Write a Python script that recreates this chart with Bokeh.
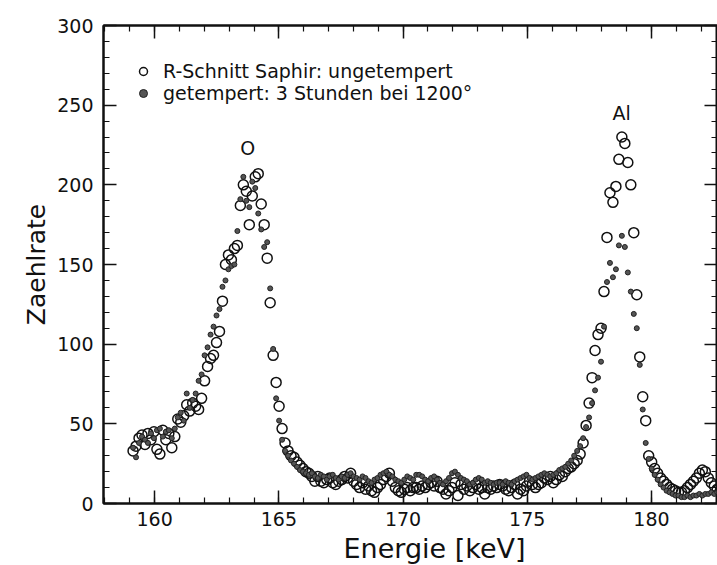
from bokeh.plotting import figure
from bokeh.models import (LinearAxis, SingleIntervalTicker, Range1d, Legend,
                          LegendItem, Label, ColumnDataSource, Title)
from bokeh.embed import file_html
from bokeh.resources import INLINE

# ---- data ----
energie = [
    159.13, 159.25, 159.37, 159.49, 159.61, 159.73, 159.85, 159.97, 160.09, 160.21,
    160.33, 160.45, 160.57, 160.69, 160.81, 160.93, 161.05, 161.17, 161.29, 161.41,
    161.53, 161.65, 161.77, 161.89, 162.01, 162.13, 162.25, 162.37, 162.49, 162.61,
    162.73, 162.85, 162.97, 163.09, 163.21, 163.33, 163.45, 163.57, 163.69, 163.81,
    163.93, 164.05, 164.17, 164.29, 164.41, 164.53, 164.65, 164.77, 164.89, 165.01,
    165.13, 165.25, 165.37, 165.49, 165.61, 165.73, 165.85, 165.97, 166.09, 166.21,
    166.33, 166.45, 166.57, 166.69, 166.81, 166.93, 167.05, 167.17, 167.29, 167.41,
    167.53, 167.65, 167.77, 167.89, 168.01, 168.13, 168.25, 168.37, 168.49, 168.61,
    168.73, 168.85, 168.97, 169.09, 169.21, 169.33, 169.45, 169.57, 169.69, 169.81,
    169.93, 170.05, 170.17, 170.29, 170.41, 170.53, 170.65, 170.77, 170.89, 171.01,
    171.13, 171.25, 171.37, 171.49, 171.61, 171.73, 171.85, 171.97, 172.09, 172.21,
    172.33, 172.45, 172.57, 172.69, 172.81, 172.93, 173.05, 173.17, 173.29, 173.41,
    173.53, 173.65, 173.77, 173.89, 174.01, 174.13, 174.25, 174.37, 174.49, 174.61,
    174.73, 174.85, 174.97, 175.09, 175.21, 175.33, 175.45, 175.57, 175.69, 175.81,
    175.93, 176.05, 176.17, 176.29, 176.41, 176.53, 176.65, 176.77, 176.89, 177.01,
    177.13, 177.25, 177.37, 177.49, 177.61, 177.73, 177.85, 177.97, 178.09, 178.21,
    178.33, 178.45, 178.57, 178.69, 178.81, 178.93, 179.05, 179.17, 179.29, 179.41,
    179.53, 179.65, 179.77, 179.89, 180.01, 180.13, 180.25, 180.37, 180.49, 180.61,
    180.73, 180.85, 180.97, 181.09, 181.21, 181.33, 181.45, 181.57, 181.69, 181.81,
    181.93, 182.05, 182.17, 182.29, 182.41, 182.53, 182.65, 182.77,
]

ungetempert = [
    33, 36, 41, 43, 37, 44, 40, 45, 34, 31,
    46, 40, 44, 35, 42, 53, 51, 55, 62, 58,
    63, 61, 59, 66, 77, 86, 91, 93, 101, 108,
    127, 150, 156, 153, 160, 162, 187, 200, 196, 175,
    193, 205, 207, 188, 175, 154, 126, 93, 76, 61,
    47, 38, 33, 30, 29, 26, 24, 22, 20, 19,
    17, 14, 17, 14, 13, 15, 16, 13, 12, 14,
    15, 17, 16, 19, 14, 12, 10, 13, 9, 11,
    8, 7, 10, 12, 15, 17, 19, 14, 10, 8,
    7, 9, 10, 8, 10, 10, 9, 11, 10, 12,
    13, 11, 14, 10, 9, 6, 8, 10, 13, 5,
    12, 9, 11, 8, 10, 12, 9, 10, 6, 10,
    9, 11, 10, 12, 11, 9, 8, 10, 12, 6,
    9, 8, 11, 14, 12, 10, 12, 13, 16, 15,
    17, 13, 15, 18, 17, 20, 22, 23, 25, 27,
    31, 38, 49, 63, 79, 96, 106, 110, 133, 167,
    195, 189, 199, 216, 230, 226, 214, 200, 170, 131,
    92, 67, 52, 30, 26, 22, 19, 16, 14, 12,
    10, 9, 8, 7, 7, 8, 10, 12, 14, 16,
    19, 21, 20, 16, 13, 11, 9, 8,
]

getempert = [
    35, 29, 38, 42, 40, 38, 44, 41, 46, 47,
    42, 45, 46, 41, 47, 54, 57, 52, 69, 60,
    65, 69, 77, 81, 93, 98, 106, 111, 118, 122,
    136, 140, 147, 149, 150, 171, 191, 205, 190, 186,
    202, 198, 182, 172, 161, 164, 135, 97, 66, 52,
    40, 33, 30, 27, 25, 23, 21, 20, 19, 18,
    19, 17, 16, 18, 17, 15, 17, 18, 16, 15,
    17, 16, 18, 19, 17, 16, 15, 17, 16, 14,
    13, 15, 16, 18, 19, 20, 18, 17, 15, 14,
    13, 15, 17, 16, 15, 18, 18, 17, 15, 14,
    16, 17, 15, 13, 12, 14, 16, 19, 20, 18,
    16, 15, 14, 12, 13, 15, 16, 15, 13, 14,
    13, 12, 13, 13, 12, 14, 13, 12, 14, 15,
    16, 17, 18, 16, 15, 16, 17, 18, 19, 18,
    17, 18, 19, 21, 22, 23, 25, 27, 30, 33,
    36, 41, 48, 54, 63, 71, 79, 89, 111, 139,
    151, 142, 147, 162, 168, 161, 145, 133, 119, 110,
    87, 59, 38, 28, 22, 18, 15, 12, 10, 8,
    7, 6, 5, 5, 4, 4, 5, 4, 5, 5,
    6, 5, 6, 6, 7, 6, 7, 7,
]

legend_labels = ["R-Schnitt Saphir: ungetempert", "getempert: 3 Stunden bei 1200°"]
peak_labels = ["O", "Al"]
peak_x = [163.75, 178.8]
peak_y = [223, 245]
x_title = "Energie [keV]"
y_title = "Zaehlrate"

FONT = "DejaVu Sans"
INK = "#111111"

p = figure(width=717, height=565, output_backend="svg", toolbar_location=None,
           x_range=Range1d(157.94, 182.66), y_range=Range1d(0, 300),
           x_axis_location=None, y_axis_location=None,
           min_border_left=103, min_border_right=0,
           min_border_top=25, min_border_bottom=0)
p.grid.grid_line_color = None
p.outline_line_color = INK
p.outline_line_width = 2
p.background_fill_color = "white"
p.border_fill_color = "white"


def style_axis(ax, labels=True):
    ax.axis_line_color = INK
    ax.axis_line_width = 2
    ax.major_tick_line_color = INK
    ax.minor_tick_line_color = INK
    ax.major_tick_line_width = 1.5
    ax.minor_tick_line_width = 1.2
    ax.major_tick_in = 13
    ax.major_tick_out = 0
    ax.minor_tick_in = 6
    ax.minor_tick_out = 0
    if labels:
        ax.major_label_text_font = FONT
        ax.major_label_text_font_size = "19px"
        ax.major_label_text_color = INK
    else:
        ax.major_label_text_font_size = "0px"
        ax.major_label_standoff = 0
        ax.major_label_text_color = None


xb = LinearAxis(ticker=SingleIntervalTicker(interval=5, num_minor_ticks=5))
style_axis(xb)
xb.major_label_standoff = 8
p.add_layout(xb, "below")

# x-axis title as a title below the axis, shifted right like the reference
p.add_layout(Title(text=x_title, align="left", offset=240, standoff=4,
                   text_font=FONT, text_font_size="27px", text_font_style="normal",
                   text_color=INK), "below")

yl = LinearAxis(ticker=SingleIntervalTicker(interval=50, num_minor_ticks=5),
                axis_label=y_title)
style_axis(yl)
yl.major_label_standoff = 10
yl.axis_label_text_font = FONT
yl.axis_label_text_font_size = "25px"
yl.axis_label_text_font_style = "normal"
yl.axis_label_text_color = INK
yl.axis_label_standoff = 3
p.add_layout(yl, "left")

xt = LinearAxis(ticker=SingleIntervalTicker(interval=5, num_minor_ticks=5))
style_axis(xt, labels=False)
p.add_layout(xt, "above")

yr = LinearAxis(ticker=SingleIntervalTicker(interval=50, num_minor_ticks=5))
style_axis(yr, labels=False)
p.add_layout(yr, "right")

src = ColumnDataSource(dict(x=energie, u=ungetempert, g=getempert))
r1 = p.scatter("x", "u", source=src, marker="circle", size=10,
               fill_color=None, line_color=INK, line_width=1.5)
r2 = p.scatter("x", "g", source=src, marker="circle", size=5,
               fill_color="#555555", line_color="#222222", line_width=1)

legend = Legend(items=[LegendItem(label=legend_labels[0], renderers=[r1]),
                       LegendItem(label=legend_labels[1], renderers=[r2])],
                location=(28, 399), background_fill_alpha=0, border_line_color=None,
                label_text_font=FONT, label_text_font_size="19px",
                label_text_color=INK, glyph_width=24, glyph_height=20,
                label_height=20, spacing=0, padding=0, margin=0, label_standoff=8)
p.add_layout(legend)

for t, xx, yy in zip(peak_labels, peak_x, peak_y):
    p.add_layout(Label(x=xx, y=yy, text=t, text_align="center", text_baseline="middle",
                       text_font=FONT, text_font_size="19px", text_color=INK))

open("out.html", "w").write(file_html(p, INLINE))
